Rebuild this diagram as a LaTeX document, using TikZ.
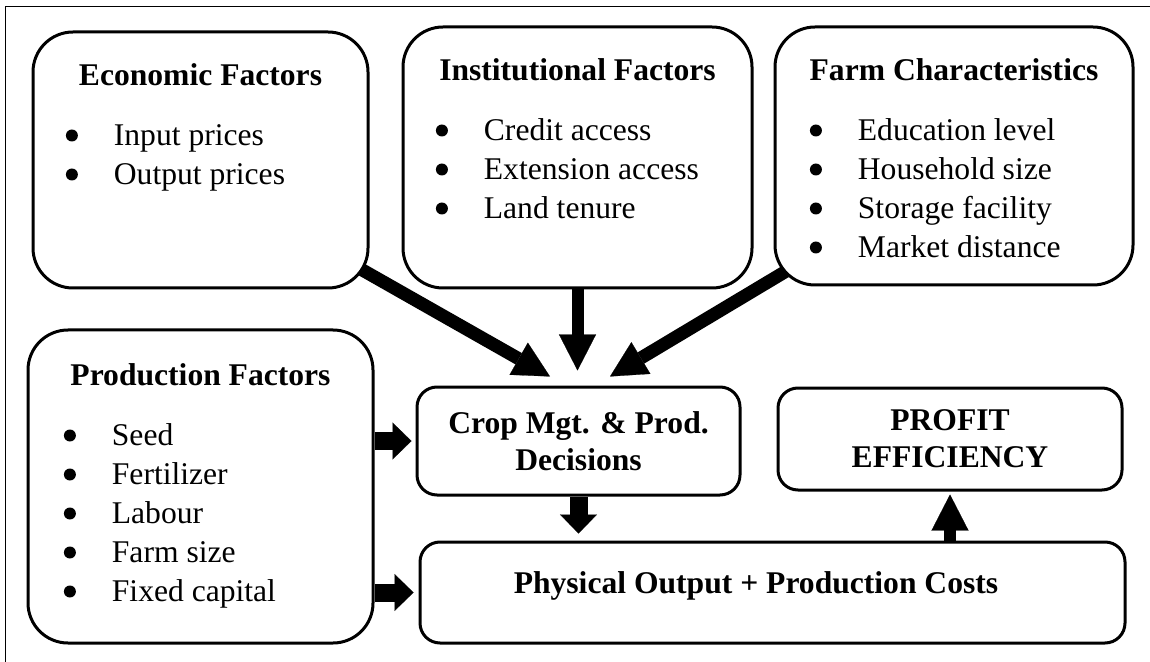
\documentclass[tikz,border=0pt]{standalone}
\usepackage{fontspec}
\setmainfont{Liberation Serif}
\usepackage{xcolor}
\usepackage{tikz}
\usetikzlibrary{positioning,arrows.meta,calc}

\newcommand{\factorlist}[1]{\begin{tabular}[t]{@{}l@{}}#1\end{tabular}}
\newcommand{\bitem}[1]{\makebox[24pt][l]{\tikz[x=1pt, y=1pt, baseline=-5pt]\fill (3,0) circle[radius=3pt];}#1}

\begin{document}
\fontsize{15.8}{19.5}\selectfont
\begin{tikzpicture}[x=0.5pt, y=-0.5pt,
    box/.style={rectangle, draw, line width=1.5pt, rounded corners=20pt, inner sep=0pt},
    smallbox/.style={rectangle, draw, line width=1.5pt, rounded corners=10pt, align=center, font=\bfseries, inner sep=0pt},
    head/.style={anchor=base, font=\bfseries, inner sep=0pt},
    items/.style={anchor=base west, inner sep=0pt},
    arrow/.style={line width=6.5pt, -{Triangle[length=18pt, width=18.5pt, line width=0.1pt]}},
    fatarrow/.style={line width=9pt, -{Triangle[length=9.5pt, width=18.5pt, line width=0.1pt]}}]

    \useasboundingbox (0,0) rectangle (1150,662);
    \draw[line width=0.5pt] (5,662) -- (5,7) -- (1150,7);

    % factor boxes
    \node[box, minimum width=167.5pt, minimum height=128pt] (eco) at (200.5,160) {};
    \node[head] (ecohead) at ([yshift=-27.5pt]eco.north) {Economic Factors};
    \node[items] (ecolist) at ([xshift=17pt, yshift=-57.5pt]eco.north west)
        {\factorlist{\bitem{Input prices}\\ \bitem{Output prices}}};

    \node[box, minimum width=174.5pt, minimum height=130.5pt] (inst) at (577.5,157.5) {};
    \node[head] (insthead) at ([yshift=-27.5pt]inst.north) {Institutional Factors};
    \node[items] (instlist) at ([xshift=17pt, yshift=-57.5pt]inst.north west)
        {\factorlist{\bitem{Credit access}\\ \bitem{Extension access}\\ \bitem{Land tenure}}};

    \node[box, minimum width=179pt, minimum height=129pt] (farm) at (954,156) {};
    \node[head] (farmhead) at ([yshift=-27.5pt]farm.north) {Farm Characteristics};
    \node[items] (farmlist) at ([xshift=18pt, yshift=-57.5pt]farm.north west)
        {\factorlist{\bitem{Education level}\\ \bitem{Household size}\\ \bitem{Storage facility}\\ \bitem{Market distance}}};

    \node[box, minimum width=172.5pt, minimum height=156.5pt] (prod) at (200.5,486.5) {};
    \node[head] (prodhead) at ([yshift=-28.5pt]prod.north) {Production Factors};
    \node[items] (prodlist) at ([xshift=18.5pt, yshift=-58.5pt]prod.north west)
        {\factorlist{\bitem{Seed}\\ \bitem{Fertilizer}\\ \bitem{Labour}\\ \bitem{Farm size}\\ \bitem{Fixed capital}}};

    % decision and outcome boxes
    \node[smallbox, minimum width=161.5pt, minimum height=54pt] (crop) at (578.5,441) {Crop Mgt. \& Prod.\\[-1pt]Decisions};
    \node[smallbox, minimum width=172pt, minimum height=51pt] (profit) at (950,439) {PROFIT\\[-1pt]EFFICIENCY};
    \node[smallbox, minimum width=352.5pt, minimum height=50.5pt] (phys) at (772.5,592.5) {};
    \node[font=\bfseries, inner sep=0pt] (physlabel) at ([xshift=-8.25pt, yshift=3.5pt]phys.center) {Physical Output + Production Costs};

    % arrows
    \draw[arrow] ([xshift=-4pt, yshift=10pt]eco.south east) -- ([xshift=-14.25pt, yshift=4.5pt]crop.north);
    \draw[arrow, line width=6pt] (inst.south) -- ($(inst.south |- crop.north)+(0pt,7.5pt)$);
    \draw[arrow] ([xshift=6pt, yshift=7.5pt]farm.south west) -- ([xshift=15.75pt, yshift=4.5pt]crop.north);
    \draw[fatarrow] (prod.east |- crop.west) -- ([xshift=-2pt]crop.west);
    \draw[fatarrow] (prod.east |- phys.west) -- ([xshift=-2.5pt]phys.west);
    \draw[fatarrow] (crop.south) -- ($(crop.south |- phys.north)+(0pt,3.5pt)$);
    \draw[arrow, line width=6pt] (profit.south |- phys.north) -- ([yshift=-1.5pt]profit.south);
\end{tikzpicture}
\end{document}
